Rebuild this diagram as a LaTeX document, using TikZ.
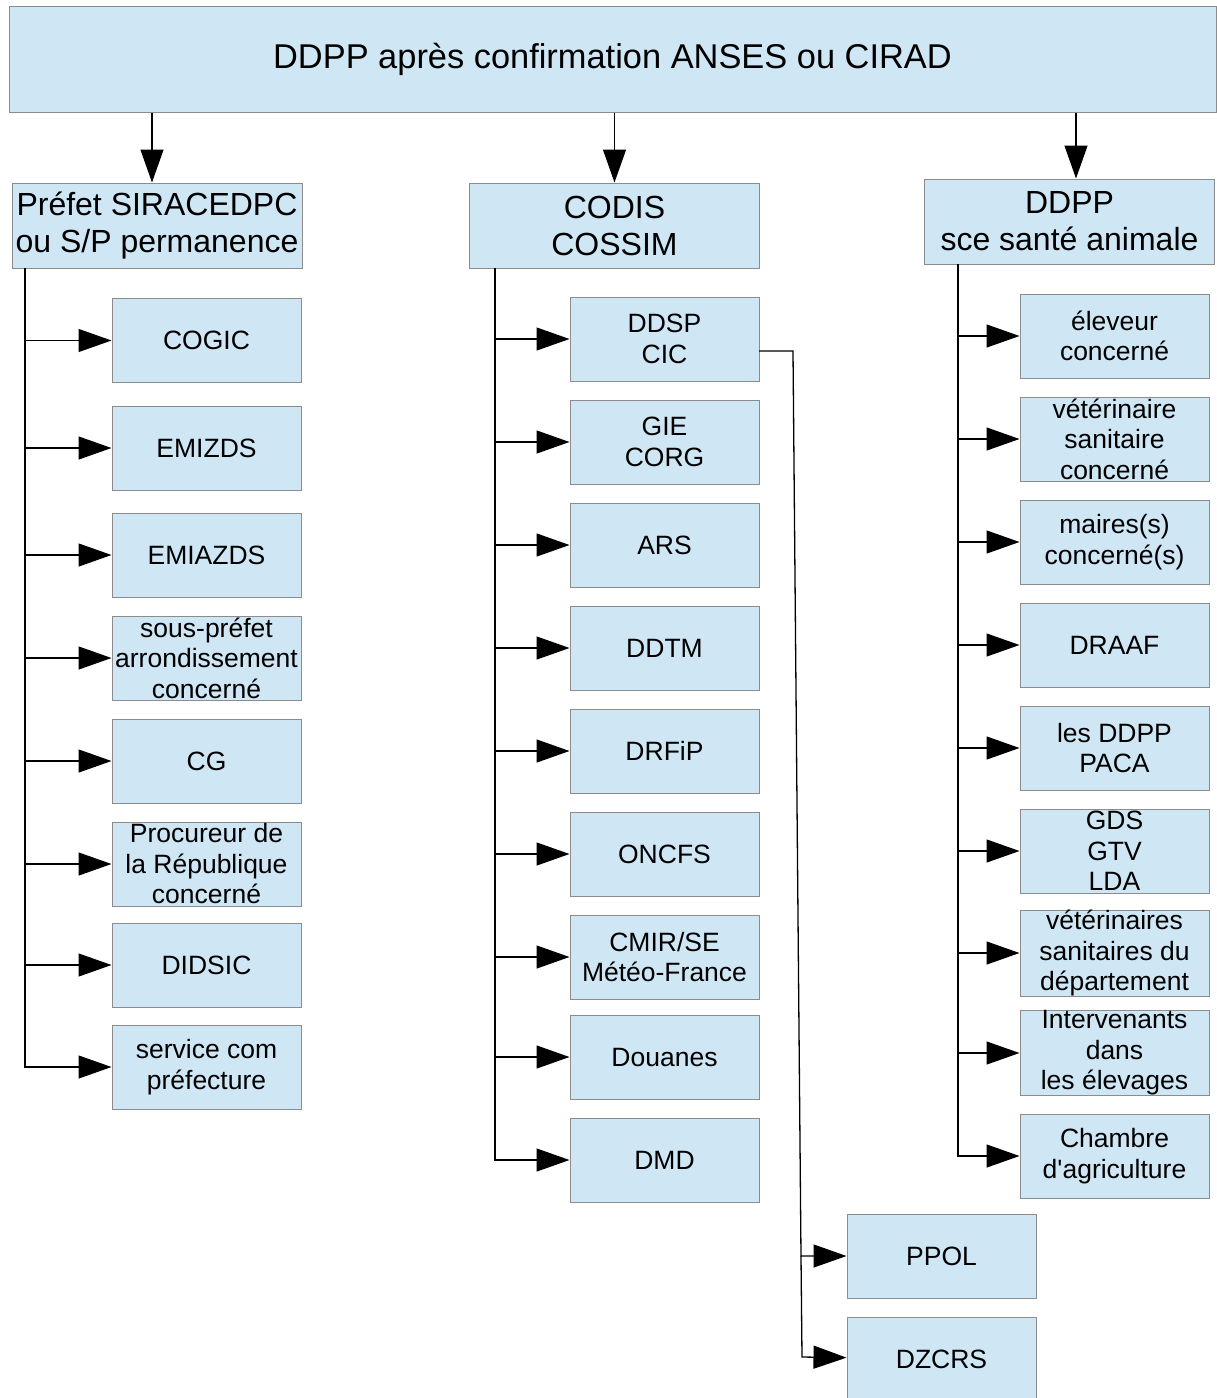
\documentclass[tikz,border=0pt]{standalone}
\usepackage{fontspec}
\setmainfont{Liberation Sans}
\usetikzlibrary{positioning,arrows.meta,calc}
\definecolor{boxblue}{HTML}{CFE7F5}
\definecolor{boxline}{HTML}{8C8C8C}
\tikzset{
	box/.style={draw=boxline,fill=boxblue,line width=1pt,minimum width=189pt,minimum height=84pt,
		inner sep=0pt,align=center,font=\fontsize{26.5}{30.5}\selectfont},
	headbox/.style={box,minimum width=290pt,minimum height=85pt,font=\fontsize{32}{37}\selectfont},
	arr/.style={-{Triangle[length=33pt,width=23pt]},line width=1.3pt},
	hv/.style={to path={|- (\tikztotarget)}}
}

\begin{document}
\begin{tikzpicture}[x=1pt,y=-1pt]
		\useasboundingbox (0,0) rectangle (1217,1398);
		\node[box,minimum width=1207pt,minimum height=106pt,font=\fontsize{34.4}{40}\selectfont] (title) at (612.5,59) {DDPP après confirmation ANSES ou CIRAD};
		
		\node[headbox] (prefet) at (157,225.5) {Préfet SIRACEDPC\\ou S/P permanence};
		\node[headbox] (codis) at (614.5,225.5) {CODIS\\COSSIM};
		\node[headbox] (ddpp) at (1069.5,221.5) {DDPP\\sce santé animale};
		
		% colonne prefet
		\node[box] (cogic) at (206.5,340.5) {COGIC};
		\node[box] (emizds) at (206.5,448) {EMIZDS};
		\node[box] (emiazds) at (206.5,555) {EMIAZDS};
		\node[box] (sousprefet) at (206.5,658) {sous-préfet\\arrondissement\\concerné};
		\node[box] (cg) at (206.5,761) {CG};
		\node[box] (procureur) at (206.5,864) {Procureur de\\la République\\concerné};
		\node[box] (didsic) at (206.5,965) {DIDSIC};
		\node[box] (servcom) at (206.5,1067) {service com\\préfecture};
		
		% colonne codis
		\node[box] (ddsp) at (664.5,339) {DDSP\\CIC};
		\node[box] (gie) at (664.5,442) {GIE\\CORG};
		\node[box] (ars) at (664.5,545) {ARS};
		\node[box] (ddtm) at (664.5,648) {DDTM};
		\node[box] (drfip) at (664.5,751) {DRFiP};
		\node[box] (oncfs) at (664.5,854) {ONCFS};
		\node[box] (cmir) at (664.5,957) {CMIR/SE\\Météo-France};
		\node[box] (douanes) at (664.5,1057) {Douanes};
		\node[box] (dmd) at (664.5,1160) {DMD};
		\node[box] (ppol) at (941.5,1256) {PPOL};
		\node[box] (dzcrs) at (941.5,1359) {DZCRS};
		
		% colonne ddpp
		\node[box] (eleveur) at (1114.5,336) {éleveur\\concerné};
		\node[box] (veto) at (1114.5,439) {vétérinaire\\sanitaire\\concerné};
		\node[box] (maires) at (1114.5,542) {maires(s)\\concerné(s)};
		\node[box] (draaf) at (1114.5,645) {DRAAF};
		\node[box] (ddpppaca) at (1114.5,748) {les DDPP\\PACA};
		\node[box] (gds) at (1114.5,851) {GDS\\GTV\\LDA};
		\node[box] (vetodep) at (1114.5,953) {vétérinaires\\sanitaires du\\département};
		\node[box] (interv) at (1114.5,1053) {Intervenants\\dans\\les élevages};
		\node[box] (chambre) at (1114.5,1156) {Chambre\\d\textquotesingle agriculture};
		
		\coordinate (lt) at (25,268);
		\coordinate (mt) at (495,268);
		\coordinate (rt) at (958,264);
		\coordinate (k0) at (759,351);
		\coordinate (k1) at (793,351);
		\coordinate (k2) at (801,1256);
		\coordinate (k3) at (802,1357);
		
		\path[arr]
		([xshift=-5pt]title.south -| prefet) edge ([xshift=-5pt]prefet.north)
		(title.south -| codis) edge (codis.north)
		([xshift=6.5pt]title.south -| ddpp) edge ([xshift=6.5pt]ddpp.north);
		
		\path[arr]
		(lt) edge[hv] (cogic)
		(lt) edge[hv] (emizds)
		(lt) edge[hv] (emiazds)
		(lt) edge[hv] (sousprefet)
		(lt) edge[hv] (cg)
		(lt) edge[hv] (procureur)
		(lt) edge[hv] (didsic)
		(lt) edge[hv] (servcom);
		
		\path[arr]
		(mt) edge[hv] (ddsp)
		(mt) edge[hv] (gie)
		(mt) edge[hv] (ars)
		(mt) edge[hv] (ddtm)
		(mt) edge[hv] (drfip)
		(mt) edge[hv] (oncfs)
		(mt) edge[hv] (cmir)
		(mt) edge[hv] (douanes)
		(mt) edge[hv] (dmd);
		
		\path[arr]
		(rt) edge[hv] (eleveur)
		(rt) edge[hv] (veto)
		(rt) edge[hv] (maires)
		(rt) edge[hv] (draaf)
		(rt) edge[hv] (ddpppaca)
		(rt) edge[hv] (gds)
		(rt) edge[hv] (vetodep)
		(rt) edge[hv] (interv)
		(rt) edge[hv] (chambre);
		
		\draw[arr] (k0) -- (k1) -- (k2) -- (ppol);
		\draw[arr] (k2) -- (k3) -- (dzcrs);
		
	\end{tikzpicture}
\end{document}
